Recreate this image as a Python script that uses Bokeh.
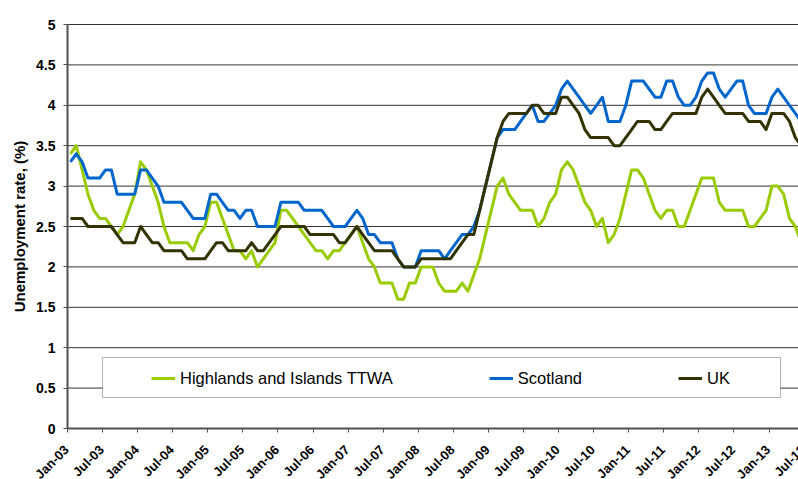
import math
from bokeh.plotting import figure
from bokeh.models import (Range1d, FixedTicker, Legend, LegendItem, BoxAnnotation,
                          NumeralTickFormatter, LabelSet, ColumnDataSource, CustomJSTickFormatter)
from bokeh.core.properties import value
from bokeh.embed import file_html
from bokeh.resources import INLINE

# ---- data (monthly, Jan-03 onwards) ----
tick_labels = ["Jan-03", "Jul-03", "Jan-04", "Jul-04", "Jan-05", "Jul-05", "Jan-06", "Jul-06",
               "Jan-07", "Jul-07", "Jan-08", "Jul-08", "Jan-09", "Jul-09", "Jan-10", "Jul-10",
               "Jan-11", "Jul-11", "Jan-12", "Jul-12", "Jan-13", "Jul-13"]

highlands = [3.4, 3.5, 3.2, 2.9, 2.7, 2.6, 2.6, 2.5, 2.4, 2.5, 2.7, 2.9,
             3.3, 3.2, 3.0, 2.8, 2.5, 2.3, 2.3, 2.3, 2.3, 2.2, 2.4, 2.5,
             2.8, 2.8, 2.6, 2.4, 2.2, 2.2, 2.1, 2.2, 2.0, 2.1, 2.2, 2.3,
             2.7, 2.7, 2.6, 2.5, 2.4, 2.3, 2.2, 2.2, 2.1, 2.2, 2.2, 2.3,
             2.4, 2.5, 2.3, 2.1, 2.0, 1.8, 1.8, 1.8, 1.6, 1.6, 1.8, 1.8,
             2.0, 2.0, 2.0, 1.8, 1.7, 1.7, 1.7, 1.8, 1.7, 1.9, 2.1, 2.4,
             2.7, 3.0, 3.1, 2.9, 2.8, 2.7, 2.7, 2.7, 2.5, 2.6, 2.8, 2.9,
             3.2, 3.3, 3.2, 3.0, 2.8, 2.7, 2.5, 2.6, 2.3, 2.4, 2.6, 2.9,
             3.2, 3.2, 3.1, 2.9, 2.7, 2.6, 2.7, 2.7, 2.5, 2.5, 2.7, 2.9,
             3.1, 3.1, 3.1, 2.8, 2.7, 2.7, 2.7, 2.7, 2.5, 2.5, 2.6, 2.7,
             3.0, 3.0, 2.9, 2.6, 2.5, 2.3]

scotland = [3.3, 3.4, 3.3, 3.1, 3.1, 3.1, 3.2, 3.2, 2.9, 2.9, 2.9, 2.9,
            3.2, 3.2, 3.1, 3.0, 2.8, 2.8, 2.8, 2.8, 2.7, 2.6, 2.6, 2.6,
            2.9, 2.9, 2.8, 2.7, 2.7, 2.6, 2.7, 2.7, 2.5, 2.5, 2.5, 2.5,
            2.8, 2.8, 2.8, 2.8, 2.7, 2.7, 2.7, 2.7, 2.6, 2.5, 2.5, 2.5,
            2.6, 2.7, 2.6, 2.4, 2.4, 2.3, 2.3, 2.3, 2.1, 2.0, 2.0, 2.0,
            2.2, 2.2, 2.2, 2.2, 2.1, 2.2, 2.3, 2.4, 2.4, 2.5, 2.7, 3.0,
            3.3, 3.6, 3.7, 3.7, 3.7, 3.8, 3.9, 4.0, 3.8, 3.8, 3.9, 4.0,
            4.2, 4.3, 4.2, 4.1, 4.0, 3.9, 4.0, 4.1, 3.8, 3.8, 3.8, 4.0,
            4.3, 4.3, 4.3, 4.2, 4.1, 4.1, 4.3, 4.3, 4.1, 4.0, 4.0, 4.1,
            4.3, 4.4, 4.4, 4.2, 4.1, 4.2, 4.3, 4.3, 4.0, 3.9, 3.9, 3.9,
            4.1, 4.2, 4.1, 4.0, 3.9, 3.8]

uk = [2.6, 2.6, 2.6, 2.5, 2.5, 2.5, 2.5, 2.5, 2.4, 2.3, 2.3, 2.3,
      2.5, 2.4, 2.3, 2.3, 2.2, 2.2, 2.2, 2.2, 2.1, 2.1, 2.1, 2.1,
      2.2, 2.3, 2.3, 2.2, 2.2, 2.2, 2.2, 2.3, 2.2, 2.2, 2.3, 2.4,
      2.5, 2.5, 2.5, 2.5, 2.5, 2.4, 2.4, 2.4, 2.4, 2.4, 2.3, 2.3,
      2.4, 2.5, 2.4, 2.3, 2.2, 2.2, 2.2, 2.2, 2.1, 2.0, 2.0, 2.0,
      2.1, 2.1, 2.1, 2.1, 2.1, 2.1, 2.2, 2.3, 2.4, 2.4, 2.7, 3.0,
      3.3, 3.6, 3.8, 3.9, 3.9, 3.9, 3.9, 4.0, 4.0, 3.9, 3.9, 3.9,
      4.1, 4.1, 4.0, 3.9, 3.7, 3.6, 3.6, 3.6, 3.6, 3.5, 3.5, 3.6,
      3.7, 3.8, 3.8, 3.8, 3.7, 3.7, 3.8, 3.9, 3.9, 3.9, 3.9, 3.9,
      4.1, 4.2, 4.1, 4.0, 3.9, 3.9, 3.9, 3.9, 3.8, 3.8, 3.8, 3.7,
      3.9, 3.9, 3.9, 3.8, 3.6, 3.5]

series_names = ["Highlands and Islands TTWA", "Scotland", "UK"]
y_ticks = [0, 0.5, 1, 1.5, 2, 2.5, 3, 3.5, 4, 4.5, 5]

# ---- layout ----
months = list(range(len(scotland)))
tick_pos = [6 * k - 0.5 for k in range(len(tick_labels))]
x_axis_pos = -0.5

W, H = 798, 479
AXIS_X, TOP = 67, 24
PX_PER_UNIT = 80.8
PX_PER_MONTH = 5.846
y_bottom = -(H - TOP - 5 * PX_PER_UNIT) / PX_PER_UNIT
y_top = 5 + TOP / PX_PER_UNIT
x_start = x_axis_pos - AXIS_X / PX_PER_MONTH
x_end = x_axis_pos + (W - AXIS_X) / PX_PER_MONTH

p = figure(width=W, height=H, output_backend="svg", toolbar_location=None,
           x_range=Range1d(x_start, x_end), y_range=Range1d(y_bottom, y_top),
           min_border_left=0, min_border_right=0, min_border_top=0, min_border_bottom=0)
p.outline_line_color = None
p.background_fill_color = "white"
p.border_fill_color = "white"
p.xgrid.visible = False
p.ygrid.visible = False

# horizontal gridlines starting at the value axis
p.segment(x0=[x_axis_pos] * len(y_ticks), x1=[x_end + 5] * len(y_ticks), y0=y_ticks, y1=y_ticks,
          line_color="#333333", line_width=1)

yax = p.yaxis[0]
yax.fixed_location = x_axis_pos
yax.ticker = FixedTicker(ticks=y_ticks)
yax.bounds = (0, 5)
yax.formatter = NumeralTickFormatter(format="0.[0]")
yax.major_tick_out = 4
yax.major_tick_in = 0
yax.minor_tick_line_color = None
yax.axis_line_color = "#505050"
yax.axis_line_width = 2
yax.major_tick_line_color = "#505050"
yax.major_label_text_font = "Liberation Sans"
yax.major_label_text_font_style = "bold"
yax.major_label_text_font_size = "14px"
yax.major_label_text_color = "black"
yax.major_label_standoff = 8
yax.axis_label = "Unemployment rate, (%)"
yax.axis_label_text_font = "Liberation Sans"
yax.axis_label_text_font_style = "bold"
yax.axis_label_text_font_size = "15px"
yax.axis_label_text_color = "black"
yax.axis_label_standoff = 5

xax = p.xaxis[0]
xax.fixed_location = 0
xax.bounds = (x_axis_pos, x_end + 5)
xax.ticker = FixedTicker(ticks=tick_pos)
xax.formatter = CustomJSTickFormatter(code="return ''")
xax.major_tick_out = 4
xax.major_tick_in = 0
xax.minor_tick_line_color = None
xax.axis_line_color = "#505050"
xax.axis_line_width = 2
xax.major_tick_line_color = "#505050"

# rotated month labels under the axis
lab_src = ColumnDataSource(dict(x=tick_pos, y=[0] * len(tick_pos), text=tick_labels))
p.add_layout(LabelSet(x="x", y="y", text="text", source=lab_src, angle=math.pi / 4,
                      text_align="right", text_baseline="middle", x_offset=-1, y_offset=-19,
                      text_font=value("Liberation Sans"), text_font_style="bold",
                      text_font_size="13px", text_color="black"))

colors = ["#99CC00", "#0066CC", "#333300"]
renderers = []
for vals, c in zip([highlands, scotland, uk], colors):
    r = p.line(months, vals, line_color=c, line_width=3, line_join="round")
    renderers.append(r)

box = BoxAnnotation(left=5.5, right=121.47, top=0.879, bottom=0.384,
                    fill_color="white", fill_alpha=1, line_color="black", line_width=1)
p.add_layout(box)

legend = Legend(items=[LegendItem(label=n, renderers=[r]) for n, r in zip(series_names, renderers)],
                orientation="horizontal", location=(AXIS_X + 84, 91), padding=0, margin=0, spacing=96,
                glyph_width=24, glyph_height=20, label_height=20, label_standoff=5,
                label_text_font="Liberation Sans", label_text_font_size="16.5px",
                label_text_color="black", border_line_alpha=0, background_fill_alpha=0)
p.add_layout(legend)

open("out.html", "w").write(file_html(p, INLINE))
